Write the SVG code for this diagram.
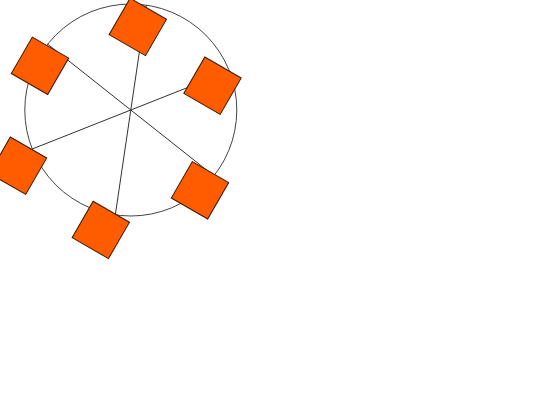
<svg xmlns="http://www.w3.org/2000/svg" width="540" height="405" viewBox="0 0 540 405">
<style>
.ring{fill:none;stroke:#444;stroke-width:1}
.spoke{stroke:#333;stroke-width:1;fill:none}
.node rect{fill:#ff5c00;stroke:#3a1800;stroke-width:1}
</style>
<rect width="540" height="405" fill="#fff"/>
<circle class="ring" cx="130.8" cy="110" r="106"/>
<g id="connectors">
<line class="spoke" x1="130.8" y1="110" x2="146.3" y2="5.1"/>
<line class="spoke" x1="130.8" y1="110" x2="229.4" y2="71"/>
<line class="spoke" x1="130.8" y1="110" x2="213.9" y2="175.8"/>
<line class="spoke" x1="130.8" y1="110" x2="115.3" y2="214.9"/>
<line class="spoke" x1="130.8" y1="110" x2="32.2" y2="149"/>
<line class="spoke" x1="130.8" y1="110" x2="47.7" y2="44.2"/>
</g>
<g id="node1" class="node" transform="translate(137.8 26.9) rotate(30)"><rect x="-21" y="-21" width="42" height="42"/></g>
<g id="node2" class="node" transform="translate(212.5 85.7) rotate(30)"><rect x="-21" y="-21" width="42" height="42"/></g>
<g id="node3" class="node" transform="translate(200 190.3) rotate(30)"><rect x="-21" y="-21" width="42" height="42"/></g>
<g id="node4" class="node" transform="translate(100.8 229.9) rotate(30)"><rect x="-21" y="-21" width="42" height="42"/></g>
<g id="node5" class="node" transform="translate(18 165.7) rotate(30)"><rect x="-21" y="-21" width="42" height="42"/></g>
<g id="node6" class="node" transform="translate(40 65.8) rotate(30)"><rect x="-21" y="-21" width="42" height="42"/></g>
</svg>
